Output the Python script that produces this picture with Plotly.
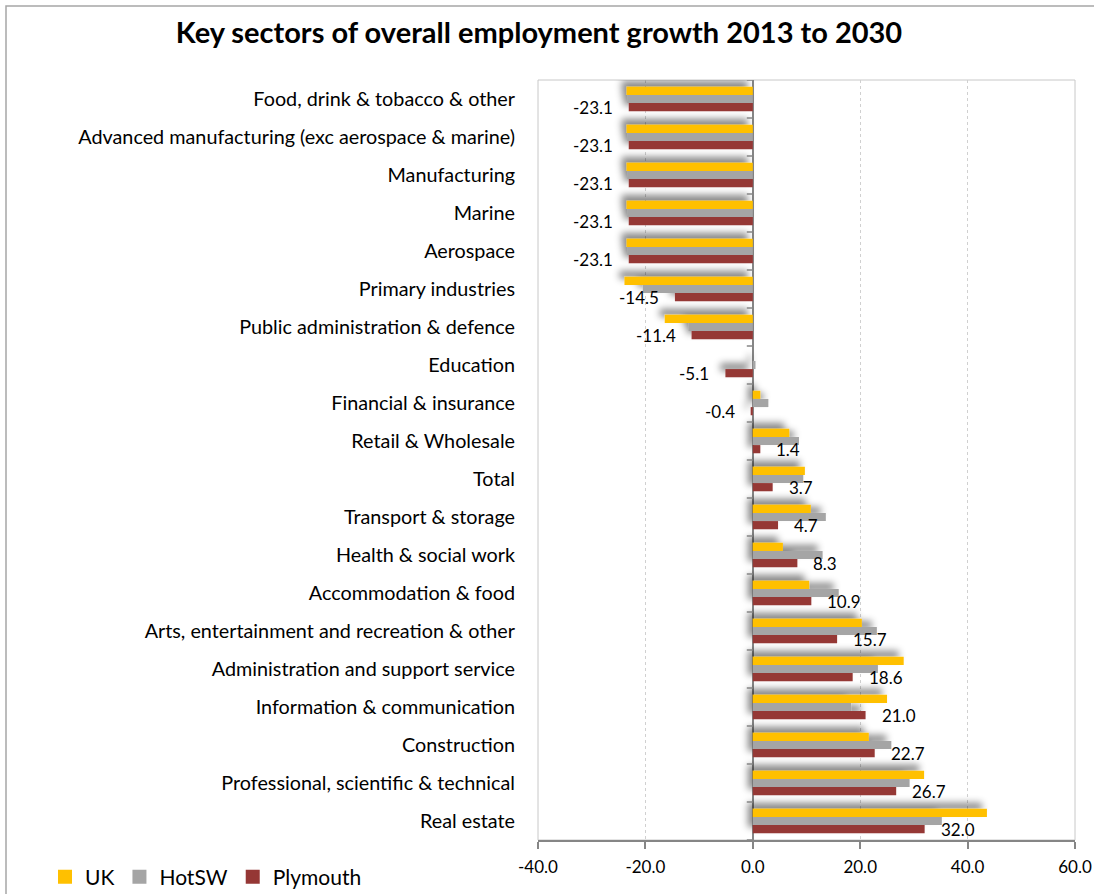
import plotly.graph_objects as go

# Sectors, listed top to bottom as they appear in the chart
categories = [
    "Food, drink & tobacco & other",
    "Advanced manufacturing (exc aerospace & marine)",
    "Manufacturing",
    "Marine",
    "Aerospace",
    "Primary industries",
    "Public administration & defence",
    "Education",
    "Financial & insurance",
    "Retail & Wholesale",
    "Total",
    "Transport & storage",
    "Health & social work",
    "Accommodation & food",
    "Arts, entertainment and recreation & other",
    "Administration and support service",
    "Information & communication",
    "Construction",
    "Professional, scientific & technical",
    "Real estate",
]

# Employment growth 2013-2030 (%)
uk = [-23.5, -23.5, -23.5, -23.5, -23.5, -23.9, -16.4, 0.0, 1.4, 6.8,
      9.7, 10.8, 5.6, 10.5, 20.3, 28.1, 25.0, 21.6, 31.9, 43.6]
hotsw = [-23.4, -23.4, -23.4, -23.4, -23.4, -20.5, -12.0, 0.5, 2.9, 8.6,
         9.4, 13.6, 13.0, 16.0, 23.1, 23.3, 18.3, 25.8, 29.2, 35.2]
plymouth = [-23.1, -23.1, -23.1, -23.1, -23.1, -14.5, -11.4, -5.1, -0.4, 1.4,
            3.7, 4.7, 8.3, 10.9, 15.7, 18.6, 21.0, 22.7, 26.7, 32.0]

x_ticks = [-40, -20, 0, 20, 40, 60]
x_tick_text = [f"{v:.1f}" for v in x_ticks]

FONT = "Lato"
AXIS_GREY = "#868686"
BAR_GAP = 0.355

pos = list(range(len(categories)))
series = [
    ("UK", uk, "#FFC000"),
    ("HotSW", hotsw, "#A5A5A5"),
    ("Plymouth", plymouth, "#953735"),
]

fig = go.Figure()
for name, vals, colour in series:
    fig.add_trace(go.Bar(
        name=name, x=vals, y=pos, orientation="h",
        marker=dict(color=colour, line=dict(width=0)),
        hoverinfo="x+name", showlegend=False,
    ))
# Legend keys: plain square swatches
for name, vals, colour in series:
    fig.add_trace(go.Scatter(
        name=name, x=[None], y=[None], mode="markers",
        marker=dict(symbol="square", size=14, color=colour),
        showlegend=True, hoverinfo="skip",
    ))

# Value labels for Plymouth, sitting beside the end of each Plymouth bar
bar_w = (1 - BAR_GAP) / 3
annotations = []
for i, v in enumerate(plymouth):
    annotations.append(dict(
        x=v, y=i + bar_w, xref="x", yref="y",
        text=f"{v:.1f}", showarrow=False,
        xanchor="left" if v >= 0 else "right",
        xshift=14 if v >= 0 else -14,
        font=dict(family=FONT, size=17, color="#000000"),
    ))

shapes = []
# outer chart frame
shapes.append(dict(type="rect", xref="paper", yref="paper",
                   x0=(6 - 538) / 537, x1=(1200 - 538) / 537,
                   y0=(840 - 1000) / 760, y1=(840 - 6) / 760,
                   line=dict(color="#A6A6A6", width=1.5), layer="below"))
# plot-area border
shapes.append(dict(type="rect", xref="paper", yref="paper",
                   x0=0, x1=1, y0=0, y1=1,
                   line=dict(color="#C8C8C8", width=1), layer="below"))
# category tick marks on the vertical axis at zero
for k in range(len(categories) + 1):
    shapes.append(dict(type="line", xref="x", yref="y",
                       xsizemode="pixel", xanchor=0, x0=-6, x1=0,
                       y0=k - 0.5, y1=k - 0.5,
                       line=dict(color=AXIS_GREY, width=1.5), layer="above"))

fig.update_layout(
    width=1094, height=894, autosize=False,
    margin=dict(l=538, r=19, t=80, b=54, autoexpand=False),
    paper_bgcolor="#FFFFFF", plot_bgcolor="#FFFFFF",
    barmode="group", bargap=BAR_GAP, bargroupgap=0,
    title=dict(
        text="<b>Key sectors of overall employment growth 2013 to 2030</b>",
        x=539 / 1094, xanchor="center", xref="container",
        y=1 - 33 / 894, yanchor="middle", yref="container",
        font=dict(family=FONT, size=29, color="#000000"),
    ),
    font=dict(family=FONT, color="#000000"),
    xaxis=dict(
        range=[-40, 60], tickmode="array", tickvals=x_ticks, ticktext=x_tick_text,
        showgrid=True, gridcolor="#D0D0D0", griddash="dot", gridwidth=1,
        zeroline=True, zerolinecolor=AXIS_GREY, zerolinewidth=1.5,
        showline=True, linecolor=AXIS_GREY, linewidth=1.5,
        ticks="outside", ticklen=7, tickcolor=AXIS_GREY, tickwidth=1.5,
        ticklabelstandoff=4,
        tickfont=dict(family=FONT, size=17, color="#000000"),
        fixedrange=True,
    ),
    yaxis=dict(
        tickmode="array", tickvals=pos, ticktext=categories,
        range=[len(categories) - 0.5, -0.5],
        showgrid=False, zeroline=False, showline=False, ticks="",
        ticklabelstandoff=22,
        tickfont=dict(family=FONT, size=19.8, color="#000000"),
        fixedrange=True,
    ),
    legend=dict(
        orientation="h", xref="container", yref="container",
        x=45 / 1094, xanchor="left",
        y=1 - 877 / 894, yanchor="middle",
        font=dict(family=FONT, size=21, color="#000000"),
        itemwidth=30, bgcolor="rgba(0,0,0,0)", traceorder="normal",
    ),
    annotations=annotations,
    shapes=shapes,
)

# Soft drop shadow behind the bars
shadow_js = """
var gd = document.getElementById('{plot_id}');
var ns = 'http://www.w3.org/2000/svg';
var svg = gd.querySelector('svg.main-svg');
var defs = svg.querySelector('defs');
var f = document.createElementNS(ns, 'filter');
f.setAttribute('id', 'barshadow');
f.setAttribute('x', '-10%'); f.setAttribute('y', '-10%');
f.setAttribute('width', '120%'); f.setAttribute('height', '120%');
var ds = document.createElementNS(ns, 'feDropShadow');
ds.setAttribute('dx', '-5'); ds.setAttribute('dy', '-6');
ds.setAttribute('stdDeviation', '3.5');
ds.setAttribute('flood-color', '#000000');
ds.setAttribute('flood-opacity', '0.45');
f.appendChild(ds);
defs.appendChild(f);
gd.querySelectorAll('.barlayer').forEach(function (g) {
    g.setAttribute('filter', 'url(#barshadow)');
});
"""

fig.write_html("out.html", post_script=shadow_js)
